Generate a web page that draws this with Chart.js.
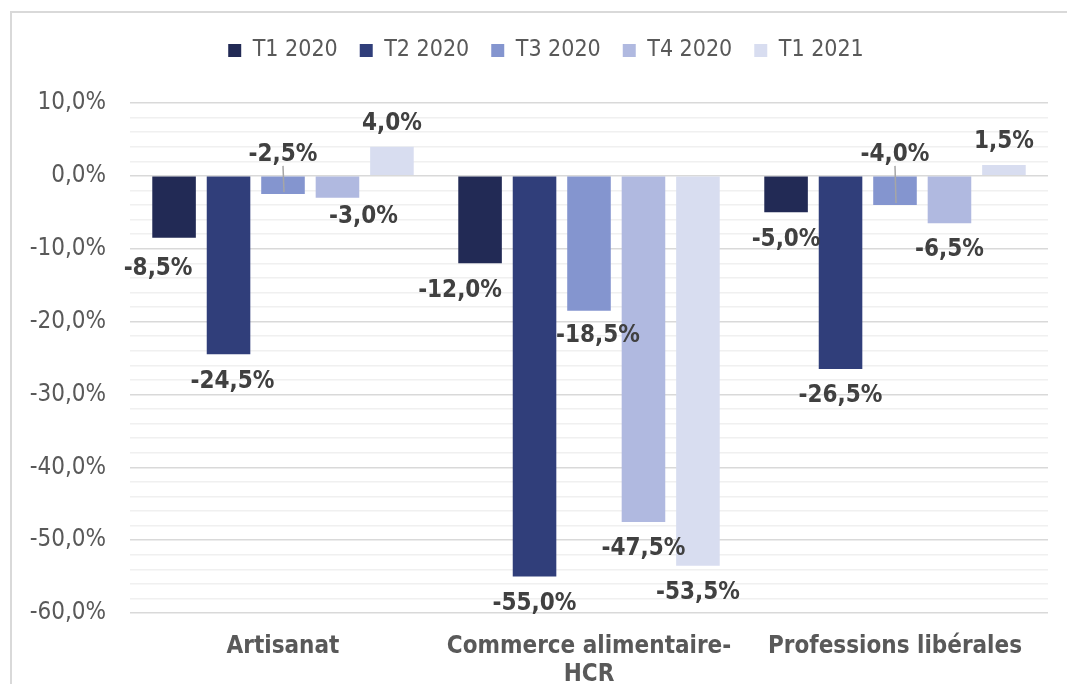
<!DOCTYPE html>
<html>
<head>
<meta charset="utf-8">
<script src="https://cdn.jsdelivr.net/npm/chart.js@4.4.1/dist/chart.umd.min.js"></script>
<style>
  html, body { margin: 0; padding: 0; background: #fff; overflow: hidden; width: 1067px; height: 684px; }
  #frame { position: absolute; left: 10px; top: 11px; width: 1080px; height: 700px;
           border-left: 2px solid #d9d9d9; border-top: 2px solid #d9d9d9; }
  #wrap { position: absolute; left: 0; top: 0; width: 1067px; height: 684px; }
</style>
</head>
<body>
<div id="frame"></div>
<div id="wrap"><canvas id="myChart" width="1067" height="684"></canvas></div>
<script>
// Categories and series (values in %)
const categories = ['Artisanat', ['Commerce alimentaire-', 'HCR'], 'Professions libérales'];
const seriesNames = ['T1 2020', 'T2 2020', 'T3 2020', 'T4 2020', 'T1 2021'];
const t1_2020 = [-8.5, -12.0, -5.0];
const t2_2020 = [-24.5, -55.0, -26.5];
const t3_2020 = [-2.5, -18.5, -4.0];
const t4_2020 = [-3.0, -47.5, -6.5];
const t1_2021 = [4.0, -53.5, 1.5];
const colors = ['#222a55', '#303e7a', '#8495cf', '#b0b9e0', '#d8ddf0'];

// Labels that were moved by hand in the original ("dataset-category": [dx, dy])
const labelShift = { '0-0': [-16, 4], '1-0': [4, 0], '3-0': [26, -8], '0-1': [-20, 0], '2-1': [9, -2] };
// Labels put above the axis with a leader line
const labelAbove = { '2-0': true, '2-2': true };

const FONT = "'DejaVu Sans Condensed', 'DejaVu Sans', sans-serif";

function fmt(v) {
    if (Math.abs(v) < 1e-9) v = 0;
    return v.toFixed(1).replace('.', ',') + '%';
}

// move the legend up and a bit to the right, like in the original
const legendMove = {
    id: 'legendMove',
    afterLayout(chart) {
        const lg = chart.legend;
        if (!lg) return;
        lg.top -= 31; lg.bottom -= 31;
        lg.left += 22; lg.right += 22;
    }
};

// Draw the data labels (Excel style)
const valueLabels = {
    id: 'valueLabels',
    afterDatasetsDraw(chart) {
        const ctx = chart.ctx;
        const zeroY = chart.scales.y.getPixelForValue(0);
        ctx.save();
        ctx.font = "bold 24px " + FONT;
        ctx.fillStyle = '#404040';
        ctx.textAlign = 'center';
        ctx.textBaseline = 'middle';
        chart.data.datasets.forEach((ds, di) => {
            const meta = chart.getDatasetMeta(di);
            meta.data.forEach((bar, i) => {
                const v = ds.data[i];
                let x = bar.x, y;
                if (labelAbove[di + '-' + i]) {
                    y = zeroY - 21;
                    // leader line
                    ctx.strokeStyle = '#a6a6a6';
                    ctx.lineWidth = 1.5;
                    ctx.beginPath();
                    ctx.moveTo(x, y + 11);
                    ctx.lineTo(x + 1, bar.y - 2);
                    ctx.stroke();
                } else {
                    y = v < 0 ? bar.y + 27 : bar.y - 23;
                    const s = labelShift[di + '-' + i];
                    if (s) { x += s[0]; y += s[1]; }
                }
                ctx.fillText(fmt(v), x, y);
            });
        });
        ctx.restore();
    }
};

const datasets = [t1_2020, t2_2020, t3_2020, t4_2020, t1_2021].map((d, k) => ({
    label: seriesNames[k],
    data: d,
    backgroundColor: colors[k],
    borderWidth: 0,
    barPercentage: 0.8,
    categoryPercentage: 0.89
}));

const ctx = document.getElementById('myChart').getContext('2d');
const myChart = new Chart(ctx, {
    type: 'bar',
    data: { labels: categories, datasets: datasets },
    plugins: [legendMove, valueLabels],
    options: {
        responsive: false,
        animation: false,
        layout: { padding: { top: 48, right: 19, left: 0, bottom: 0 } },
        plugins: {
            tooltip: { enabled: false },
            legend: {
                position: 'top',
                labels: {
                    boxWidth: 13,
                    boxHeight: 13,
                    padding: 22,
                    color: '#595959',
                    font: { family: FONT, size: 23 }
                }
            }
        },
        scales: {
            x: {
                grid: { display: false, drawTicks: false },
                border: { display: false },
                ticks: {
                    color: '#595959',
                    padding: 19,
                    maxRotation: 0,
                    font: { family: FONT, size: 24, weight: 'bold', lineHeight: 1.2 }
                },
                afterFit(scale) { scale.height = 71; }
            },
            y: {
                min: -60,
                max: 10,
                border: { display: false },
                grid: {
                    drawTicks: false,
                    lineWidth: 1.5,
                    color: (c) => (Math.round(c.tick.value) % 10 === 0 ? '#d9d9d9' : '#f0f0f0')
                },
                ticks: {
                    stepSize: 2,
                    autoSkip: false,
                    padding: 24,
                    color: '#595959',
                    font: { family: FONT, size: 24 },
                    callback: (v) => (Math.round(v) % 10 === 0 ? fmt(v) : '')
                },
                afterFit(scale) { scale.width = 130; }
            }
        }
    }
});
</script>
</body>
</html>
